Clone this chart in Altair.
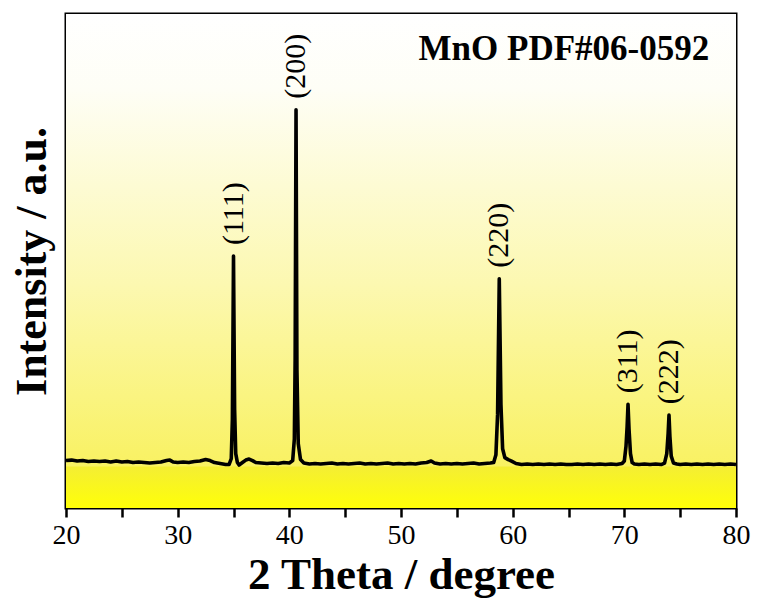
import altair as alt
import pandas as pd

# ---- data ----
two_theta = [
    20.0, 20.5, 21.0, 21.5, 22.0, 22.5, 23.0, 23.5, 24.0, 24.5, 25.0, 25.5,
    26.0, 26.5, 27.0, 27.5, 28.0, 28.5, 29.0, 29.3, 29.6, 30.0, 30.5, 31.0,
    31.5, 32.0, 32.5, 32.9, 33.3, 33.8, 34.3, 34.6, 34.8, 34.9, 35.0, 35.1,
    35.2, 35.35, 35.5, 35.8, 36.1, 36.4, 36.7, 37.0, 37.5, 38.0, 38.5, 39.0,
    39.5, 40.0, 40.3, 40.45, 40.52, 40.6, 40.68, 40.8, 41.0, 41.3, 41.8, 42.3,
    42.8, 43.3, 43.8, 44.3, 44.8, 45.3, 45.8, 46.3, 46.8, 47.3, 47.8, 48.3,
    48.8, 49.3, 49.8, 50.3, 50.8, 51.3, 51.8, 52.3, 52.7, 53.0, 53.5, 54.0,
    54.5, 55.0, 55.5, 56.0, 56.5, 57.0, 57.5, 58.0, 58.3, 58.5, 58.65, 58.8,
    58.95, 59.1, 59.3, 59.6, 59.9, 60.3, 60.8, 61.3, 61.8, 62.3, 62.8, 63.3,
    63.8, 64.3, 64.8, 65.3, 65.8, 66.3, 66.8, 67.3, 67.8, 68.3, 68.8, 69.3,
    69.8, 70.0, 70.15, 70.25, 70.33, 70.42, 70.55, 70.7, 70.9, 71.3, 71.8, 72.3,
    72.8, 73.3, 73.6, 73.8, 73.92, 74.0, 74.08, 74.2, 74.4, 74.7, 75.0, 75.5,
    76.0, 76.5, 77.0, 77.5, 78.0, 78.5, 79.0, 79.5, 80.0,
]
intensity = [
    96, 97, 95, 96, 94, 95, 94, 95, 93, 95, 93, 94,
    92, 93, 92, 91, 92, 93, 96, 97, 93, 92, 93, 92,
    94, 95, 98, 96, 92, 90, 88, 88, 100, 180, 510, 200,
    110, 92, 87, 92, 97, 99, 96, 92, 91, 90, 91, 90,
    92, 91, 96, 140, 300, 806, 280, 130, 98, 91, 89, 90,
    89, 90, 91, 89, 90, 89, 90, 91, 89, 90, 89, 90,
    91, 89, 90, 89, 90, 89, 91, 92, 95, 91, 89, 90,
    89, 90, 89, 90, 91, 89, 90, 91, 92, 108, 190, 464,
    210, 120, 102, 98, 95, 90, 88, 89, 88, 89, 88, 89,
    88, 89, 88, 88, 89, 88, 89, 88, 89, 88, 89, 88,
    90, 95, 125, 165, 210, 160, 110, 92, 89, 88, 89, 88,
    89, 88, 91, 110, 150, 188, 145, 105, 91, 89, 88, 89,
    88, 89, 88, 89, 88, 89, 88, 89, 88,
]

peak_pos = [35.0, 40.6, 58.8, 70.33, 74.0]
peak_top = [510, 806, 464, 210, 188]
peak_hkl = ["(111)", "(200)", "(220)", "(311)", "(222)"]

x_ticks = [20, 25, 30, 35, 40, 45, 50, 55, 60, 65, 70, 75, 80]
x_domain = [20, 80]
y_domain = [0, 1000]
band_top = 84
card_text = "MnO PDF#06-0592"

# ---- tables ----
xrd = pd.DataFrame({"two_theta": two_theta, "intensity": intensity})
peaks = pd.DataFrame({"pos": peak_pos, "top": peak_top, "hkl": peak_hkl})

SERIF = "Liberation Serif"

x_scale = alt.Scale(domain=x_domain, nice=False, zero=False)
y_scale = alt.Scale(domain=y_domain, nice=False, zero=False)

x_axis = alt.Axis(
    values=x_ticks,
    labelExpr="datum.value % 10 == 0 ? datum.label : ''",
    tickSize=9, tickWidth=2.5, tickColor="black",
    domain=False, grid=False, labelFlush=False, labelOverlap=False,
    labelFont=SERIF, labelFontSize=28, labelColor="black", labelPadding=4,
    title="2 Theta / degree", titleFont=SERIF, titleFontSize=45,
    titleFontWeight="bold", titleColor="black", titlePadding=3,
)
y_axis = alt.Axis(
    labels=False, ticks=False, domain=False, grid=False,
    title="Intensity  / a.u.", titleFont=SERIF, titleFontSize=44,
    titleFontWeight="bold", titleColor="black", titlePadding=12,
)

bg_gradient = alt.Gradient(
    gradient="linear",
    stops=[
        alt.GradientStop(color="#ffffff", offset=0.0),
        alt.GradientStop(color="#fefef6", offset=0.15),
        alt.GradientStop(color="#fcf8b0", offset=0.55),
        alt.GradientStop(color="#f8f050", offset=1.0),
    ],
    x1=0, x2=0, y1=0, y2=1,
)
band_gradient = alt.Gradient(
    gradient="linear",
    stops=[
        alt.GradientStop(color="#f4ee34", offset=0.0),
        alt.GradientStop(color="#ffff08", offset=1.0),
    ],
    x1=0, x2=0, y1=0, y2=1,
)

base = alt.Chart(xrd)

background = alt.Chart(pd.DataFrame({"a": [0]})).mark_rect(color=bg_gradient).encode(
    x=alt.datum(x_domain[0], scale=x_scale, axis=x_axis),
    x2=alt.datum(x_domain[1]),
    y=alt.datum(y_domain[0], scale=y_scale, axis=y_axis),
    y2=alt.datum(y_domain[1]),
)
band = alt.Chart(pd.DataFrame({"a": [0]})).mark_rect(color=band_gradient).encode(
    x=alt.datum(x_domain[0]),
    x2=alt.datum(x_domain[1]),
    y=alt.datum(y_domain[0]),
    y2=alt.datum(band_top),
)
line = base.mark_line(color="black", strokeWidth=3.6, strokeJoin="round").encode(
    x=alt.X("two_theta:Q", scale=x_scale, axis=x_axis),
    y=alt.Y("intensity:Q", scale=y_scale, axis=y_axis),
)
labels = alt.Chart(peaks).mark_text(
    angle=270, align="left", baseline="middle", dx=11,
    font=SERIF, fontSize=30, color="black",
).encode(
    x=alt.X("pos:Q"),
    y=alt.Y("top:Q"),
    text="hkl:N",
)
card = alt.Chart(pd.DataFrame({"t": [card_text]})).mark_text(
    align="right", baseline="top", font=SERIF, fontSize=35,
    fontWeight="bold", color="black",
).encode(
    x=alt.datum(77.6),
    y=alt.datum(964),
    text="t:N",
)

chart = alt.layer(background, band, line, labels, card).properties(
    width=670, height=494,
    autosize=alt.AutoSizeParams(type="none"),
    padding={"left": 58, "top": 6, "right": 16, "bottom": 92},
    background="white",
).configure_view(stroke="black", strokeWidth=3)

chart.save("out.html", embed_options={"renderer": "svg", "actions": False})
